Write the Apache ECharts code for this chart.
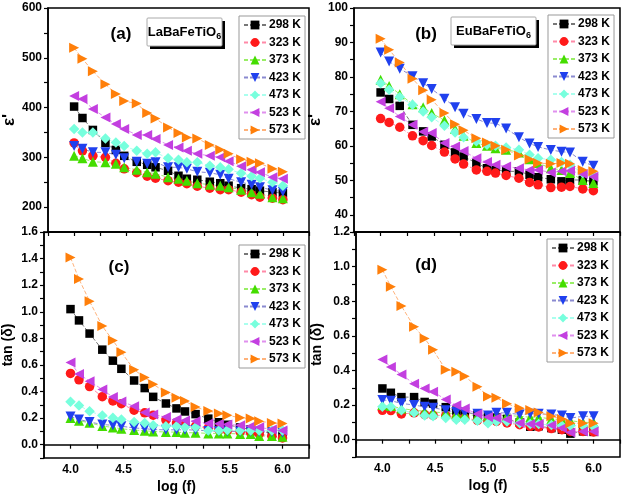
<!DOCTYPE html>
<html>
<head>
<meta charset="utf-8">
<script src="https://cdn.jsdelivr.net/npm/echarts@6/dist/echarts.min.js"></script>
<style>
html,body{margin:0;padding:0;background:#fff;}
#c{width:624px;height:496px;}
</style>
</head>
<body>
<div id="c"></div>
<script>
// ---- data ----
const logF = [4.0, 4.08, 4.18, 4.3, 4.4, 4.48, 4.6, 4.7, 4.78, 4.9, 5.0, 5.08, 5.18, 5.3, 5.4, 5.48, 5.6, 5.7, 5.78, 5.9, 6.0];
const temps = ['298 K', '323 K', '373 K', '423 K', '473 K', '523 K', '573 K'];

// (a) LaBaFeTiO6, epsilon'
const epsLa298 = [402, 379, 355, 329, 315, 303, 291, 285, 280, 273, 263, 257, 255, 251, 248, 243, 238, 236, 233, 230, 228];
const epsLa323 = [329, 313, 303, 300, 288, 277, 269, 262, 258, 253, 250, 247, 242, 238, 235, 235, 230, 225, 220, 218, 215];
const epsLa373 = [303, 298, 291, 290, 287, 280, 275, 270, 267, 260, 257, 253, 248, 245, 243, 240, 235, 230, 227, 220, 218];
const epsLa423 = [323, 317, 310, 310, 305, 298, 291, 287, 290, 280, 280, 277, 271, 269, 265, 257, 250, 245, 240, 234, 231];
const epsLa473 = [357, 350, 350, 338, 330, 323, 313, 307, 310, 298, 295, 290, 290, 283, 280, 276, 268, 262, 258, 250, 243];
const epsLa523 = [423, 417, 397, 380, 367, 357, 345, 345, 337, 325, 320, 313, 307, 303, 300, 292, 282, 275, 270, 260, 257];
const epsLa573 = [520, 498, 473, 447, 427, 413, 408, 389, 378, 360, 349, 340, 338, 325, 315, 307, 296, 291, 288, 277, 271];

// (b) EuBaFeTiO6, epsilon'
const epsEu298 = [75.5, 73.6, 71.6, 66.1, 64.2, 62.7, 60.3, 58.1, 56.9, 55.0, 53.5, 53.0, 52.6, 52.6, 51.6, 50.9, 50.3, 49.7, 50.1, 50.1, 49.7];
const epsEu323 = [67.9, 66.8, 65.4, 62.9, 61.5, 60.1, 58.2, 56.2, 54.7, 53.0, 52.6, 52.1, 51.4, 50.6, 49.4, 48.7, 47.9, 48.0, 48.2, 47.5, 47.0];
const epsEu373 = [79.2, 77.4, 75.0, 72.1, 71.2, 69.5, 67.4, 64.9, 62.9, 60.8, 60.0, 59.3, 58.9, 58.1, 56.1, 55.0, 53.5, 53.0, 52.1, 50.1, 49.2];
const epsEu423 = [87.1, 84.5, 82.4, 80.2, 78.2, 76.5, 73.7, 71.2, 69.3, 67.8, 66.6, 66.6, 65.0, 62.5, 60.7, 59.7, 58.8, 58.3, 58.1, 55.4, 54.2];
const epsEu473 = [78.2, 76.3, 74.2, 71.9, 70.0, 68.3, 65.8, 63.9, 62.5, 61.3, 60.3, 60.0, 59.5, 58.9, 57.4, 56.4, 56.0, 55.3, 54.5, 52.1, 51.6];
const epsEu523 = [72.8, 70.9, 68.5, 66.1, 64.1, 63.7, 60.8, 59.8, 58.5, 56.4, 55.3, 54.5, 54.0, 53.5, 53.0, 53.0, 52.3, 52.6, 52.8, 51.8, 51.0];
const epsEu573 = [91.1, 87.9, 84.2, 79.5, 76.1, 73.4, 69.5, 66.3, 64.5, 62.2, 61.0, 60.0, 58.9, 57.2, 56.1, 55.0, 54.8, 55.0, 54.8, 53.0, 52.6];

// (c) LaBaFeTiO6, tan(delta)
const tanLa298 = [1.02, 0.935, 0.836, 0.715, 0.632, 0.571, 0.483, 0.426, 0.360, 0.310, 0.273, 0.250, 0.230, 0.196, 0.169, 0.150, 0.130, 0.115, 0.100, 0.090, 0.080];
const tanLa323 = [0.536, 0.488, 0.437, 0.361, 0.329, 0.308, 0.260, 0.240, 0.222, 0.185, 0.164, 0.152, 0.139, 0.126, 0.114, 0.106, 0.096, 0.088, 0.081, 0.063, 0.051];
const tanLa373 = [0.200, 0.180, 0.165, 0.140, 0.130, 0.120, 0.110, 0.105, 0.100, 0.095, 0.095, 0.090, 0.090, 0.085, 0.085, 0.085, 0.080, 0.080, 0.065, 0.065, 0.060];
const tanLa423 = [0.213, 0.190, 0.171, 0.152, 0.146, 0.139, 0.126, 0.121, 0.114, 0.112, 0.112, 0.112, 0.110, 0.104, 0.101, 0.101, 0.100, 0.100, 0.098, 0.095, 0.090];
const tanLa473 = [0.323, 0.295, 0.252, 0.219, 0.202, 0.189, 0.171, 0.164, 0.146, 0.139, 0.139, 0.131, 0.131, 0.106, 0.106, 0.110, 0.106, 0.106, 0.106, 0.106, 0.106];
const tanLa523 = [0.619, 0.531, 0.478, 0.415, 0.358, 0.325, 0.290, 0.243, 0.227, 0.208, 0.190, 0.182, 0.177, 0.159, 0.157, 0.152, 0.147, 0.139, 0.131, 0.114, 0.106];
const tanLa573 = [1.408, 1.246, 1.079, 0.892, 0.784, 0.695, 0.564, 0.506, 0.455, 0.392, 0.354, 0.329, 0.283, 0.253, 0.235, 0.222, 0.202, 0.197, 0.177, 0.164, 0.159];

// (d) EuBaFeTiO6, tan(delta)
const tanEu298 = [0.296, 0.271, 0.246, 0.246, 0.218, 0.209, 0.188, 0.168, 0.160, 0.145, 0.135, 0.128, 0.120, 0.100, 0.075, 0.078, 0.067, 0.058, 0.035, 0.048, 0.045];
const tanEu323 = [0.170, 0.168, 0.149, 0.155, 0.145, 0.141, 0.139, 0.126, 0.126, 0.112, 0.106, 0.106, 0.097, 0.087, 0.077, 0.074, 0.064, 0.058, 0.048, 0.048, 0.045];
const tanEu373 = [0.200, 0.195, 0.180, 0.170, 0.165, 0.160, 0.155, 0.150, 0.145, 0.140, 0.140, 0.140, 0.140, 0.135, 0.130, 0.130, 0.120, 0.115, 0.110, 0.100, 0.100];
const tanEu423 = [0.230, 0.225, 0.210, 0.200, 0.190, 0.185, 0.170, 0.160, 0.155, 0.150, 0.140, 0.155, 0.155, 0.145, 0.150, 0.150, 0.145, 0.140, 0.125, 0.135, 0.135];
const tanEu473 = [0.190, 0.190, 0.170, 0.155, 0.140, 0.135, 0.125, 0.115, 0.115, 0.110, 0.095, 0.105, 0.105, 0.095, 0.090, 0.090, 0.085, 0.080, 0.080, 0.080, 0.075];
const tanEu523 = [0.464, 0.420, 0.377, 0.323, 0.296, 0.277, 0.232, 0.199, 0.180, 0.149, 0.131, 0.126, 0.116, 0.097, 0.091, 0.091, 0.083, 0.067, 0.042, 0.048, 0.048];
const tanEu573 = [0.982, 0.884, 0.772, 0.653, 0.585, 0.519, 0.404, 0.393, 0.366, 0.306, 0.250, 0.242, 0.208, 0.181, 0.171, 0.157, 0.135, 0.119, 0.095, 0.095, 0.095];

// ---- styles ----
const FONT = '"Liberation Sans", Arial, sans-serif';
const markerColors = ['#000000', '#ff1a1a', '#44dd00', '#2040ee', '#77ffdd', '#c33fe0', '#ff7f0a'];
const lineColors   = ['#777777', '#ff8aa8', '#99ee66', '#8a8ad0', '#aaffee', '#e090ee', '#ffb27a'];
const symbols      = ['rect', 'circle', 'triangle', 'triangle', 'diamond', 'triangle', 'triangle'];
const rotations    = [0, 0, 0, 180, 0, 90, -90];
const sizes        = [8.5, 9.5, 10, 10, 10.5, 10, 10];

const panels = [
  [epsLa298, epsLa323, epsLa373, epsLa423, epsLa473, epsLa523, epsLa573],
  [epsEu298, epsEu323, epsEu373, epsEu423, epsEu473, epsEu523, epsEu573],
  [tanLa298, tanLa323, tanLa373, tanLa423, tanLa473, tanLa523, tanLa573],
  [tanEu298, tanEu323, tanEu373, tanEu423, tanEu473, tanEu523, tanEu573]
];

const series = [];
panels.forEach((sets, p) => {
  sets.forEach((vals, i) => {
    series.push({
      type: 'line', name: temps[i], xAxisIndex: p, yAxisIndex: p,
      data: logF.map((x, k) => [x, vals[k]]),
      symbol: symbols[i], symbolSize: sizes[i], symbolRotate: rotations[i],
      itemStyle: { color: markerColors[i] },
      lineStyle: { color: lineColors[i], width: 1, type: [4, 2] },
      emphasis: { disabled: true }
    });
  });
});

const axisLineStyle = { color: '#000', width: 1.5 };
const labelStyle = { color: '#000', fontSize: 12, fontWeight: 'bold', fontFamily: FONT };
const nameStyle = { color: '#000', fontSize: 14, fontWeight: 'bold', fontFamily: FONT };
const epsStyle = { color: '#000', fontSize: 17, fontWeight: 'bold', fontFamily: FONT };

function xAxisFor(g, showLabels) {
  return {
    gridIndex: g, type: 'value', min: 3.75, max: 6.25, interval: 0.25,
    axisLine: { show: true, lineStyle: axisLineStyle },
    axisTick: { show: true, inside: false, length: 4, lineStyle: { color: '#000', width: 1.2 } },
    axisLabel: {
      show: showLabels, margin: 6, ...labelStyle,
      formatter: v => { const k = Math.round(v * 4); return k % 2 === 0 ? (k / 4).toFixed(1) : ''; }
    },
    splitLine: { show: false },
    name: showLabels ? 'log (f)' : '', nameLocation: 'middle', nameGap: 22, nameTextStyle: nameStyle
  };
}
function yAxisFor(g, min, max, interval, major, digits, name, gap, nstyle) {
  return {
    gridIndex: g, type: 'value', min: min, max: max, interval: interval,
    axisLine: { show: true, lineStyle: axisLineStyle },
    axisTick: { show: true, inside: false, length: 4, lineStyle: { color: '#000', width: 1.2 } },
    axisLabel: {
      margin: 6, ...labelStyle,
      formatter: v => {
        const k = Math.round(v / interval);
        const r = Math.round(major / interval);
        if (k % r !== 0 || v < -1e-9) return '';
        return (k * interval).toFixed(digits);
      }
    },
    splitLine: { show: false },
    name: name, nameLocation: 'middle', nameGap: gap, nameTextStyle: nstyle
  };
}

function legendAt(left, top) {
  return {
    orient: 'vertical', left: left, top: top, data: temps,
    itemWidth: 22, itemHeight: 11, itemGap: 3.5,
    padding: [2, 4, 2, 4],
    backgroundColor: '#fff', borderColor: '#999', borderWidth: 1,
    textStyle: { ...labelStyle, lineHeight: 14, padding: [0, 0, 0, -2] },
    selectedMode: false
  };
}

function nameBox(x, y, w, h, main) {
  return [
    { type: 'rect', shape: { x: x + 3, y: y + 3, width: w, height: h }, style: { fill: '#000' }, z: 100 },
    { type: 'rect', shape: { x: x, y: y, width: w, height: h, r: 1 }, style: { fill: '#fff', stroke: '#aaa', lineWidth: 1 }, z: 101 },
    { type: 'text', x: x + w / 2, y: y + h / 2, z: 102,
      style: {
        text: '{n|' + main + '}{s|6}', align: 'center', verticalAlign: 'middle',
        rich: {
          n: { fontSize: 13, fontWeight: 'bold', fontFamily: FONT, fill: '#000', lineHeight: 18 },
          s: { fontSize: 9, fontWeight: 'bold', fontFamily: FONT, fill: '#000', lineHeight: 9, verticalAlign: 'bottom' }
        }
      } }
  ];
}
function panelLabel(x, y, t) {
  return { type: 'text', x: x, y: y, z: 102,
    style: { text: t, align: 'center', verticalAlign: 'middle', fontSize: 17, fontWeight: 'bold', fontFamily: FONT, fill: '#000' } };
}

const option = {
  animation: false,
  backgroundColor: '#fff',
  textStyle: { fontFamily: FONT },
  grid: [
    { left: 46, top: 8, width: 263, height: 224, show: true, borderColor: '#000', borderWidth: 1.5 },
    { left: 354, top: 8, width: 266, height: 224, show: true, borderColor: '#000', borderWidth: 1.5 },
    { left: 44, top: 232, width: 265, height: 226, show: true, borderColor: '#000', borderWidth: 1.5 },
    { left: 356, top: 232, width: 264, height: 225, show: true, borderColor: '#000', borderWidth: 1.5 }
  ],
  xAxis: [xAxisFor(0, false), xAxisFor(1, false), xAxisFor(2, true), xAxisFor(3, true)],
  yAxis: [
    yAxisFor(0, 150, 600, 50, 100, 0, "ε'", 30, epsStyle),
    yAxisFor(1, 35, 100, 5, 10, 0, "ε'", 27, epsStyle),
    yAxisFor(2, -0.1, 1.6, 0.1, 0.2, 1, 'tan (δ)', 29, nameStyle),
    yAxisFor(3, -0.1, 1.2, 0.1, 0.2, 1, 'tan (δ)', 32, nameStyle)
  ],
  legend: [legendAt(239, 16), legendAt(548, 15), legendAt(239, 245), legendAt(547, 239)],
  graphic: [
    ...nameBox(147, 18, 75, 28, 'LaBaFeTiO'),
    ...nameBox(451, 17, 85, 28, 'EuBaFeTiO'),
    panelLabel(121, 34, '(a)'),
    panelLabel(426, 34, '(b)'),
    panelLabel(119, 267, '(c)'),
    panelLabel(426, 265, '(d)')
  ],
  series: series
};

const chart = echarts.init(document.getElementById('c'), null, { renderer: 'canvas' });
chart.setOption(option);
</script>
</body>
</html>
